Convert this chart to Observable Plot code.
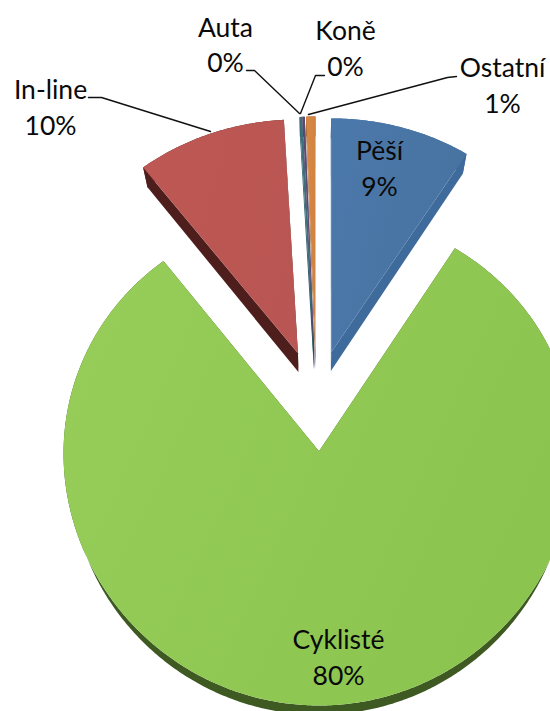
<!DOCTYPE html>
<html>
<head>
<meta charset="utf-8">
<style>html,body{margin:0;padding:0;background:#fff}svg{display:block;overflow:hidden}</style>
<script src="https://cdn.jsdelivr.net/npm/d3@7"></script>
<script src="https://cdn.jsdelivr.net/npm/@observablehq/plot@0.6"></script>
</head>
<body>
<div id="chart"></div>
<script>
// Data, clockwise from twelve o'clock
const categories = ["Pěší", "Cyklisté", "In-line", "Auta", "Koně", "Ostatní"];
const shares = [9.0, 80.5, 9.6, 0.15, 0.15, 0.6];
const percentLabels = ["9%", "80%", "10%", "0%", "0%", "1%"];

// Styles
const topStart = ["#4b78aa", "#95cd58", "#bd5854", "#3c6f7c", "#5a4a70", "#d68843"];
const topEnd = ["#47729f", "#8bc34f", "#b95552", "#3c6f7c", "#5a4a70", "#d08240"];
const sideColors = ["#3f6a9c", "#3e5a22", "#4e1e1d", "#2b5f6e", "#46355c", "#8a5526"];

// Pie geometry (plot units are pixels)
const cx = 316, cy = 400, R = 255, explode = 53, depthKx = 0.975, depthKy = 0.995;
const persp = 1.16e-4, yScale = 0.955;
const depthAt = (Y) => Y <= -50 ? 18.5 : 18.5 - 7.5 * (Y + 50) / 350;
const project = (X, Y, bottom) => {
  const w = 1 - persp * Y;
  let x = X / (1 - 0.3 * persp * Y), y = yScale * Y / w;
  if (bottom) { x *= depthKx; y = y * depthKy + depthAt(Y); }
  return {x: cx + x, y: cy + y};
};
const total = d3.sum(shares);
let acc = 0;
const slices = categories.map((name, i) => {
  const a0 = acc / total * 2 * Math.PI;
  acc += shares[i];
  const a1 = acc / total * 2 * Math.PI;
  const mid = (a0 + a1) / 2;
  const ox = explode * Math.sin(mid), oy = -explode * Math.cos(mid);
  const plane = [[ox, oy]];
  const n = Math.max(2, Math.ceil((a1 - a0) / 0.01));
  for (let k = 0; k <= n; k++) {
    const a = a0 + (a1 - a0) * k / n;
    plane.push([ox + R * Math.sin(a), oy - R * Math.cos(a)]);
  }
  return {i, name, plane};
});

// Each slice's side is one rim band and two cut faces
const sidePolys = [];
slices.forEach((s) => {
  const arc = s.plane.slice(1);
  const push = (key, pts) => pts.forEach((pt) => sidePolys.push({...pt, key: s.i + key, slice: s.i}));
  push("rim", [
    ...arc.map((p) => project(p[0], p[1], false)),
    ...arc.slice().reverse().map((p) => project(p[0], p[1], true))
  ]);
  [[s.plane[0], arc[0]], [s.plane[0], arc[arc.length - 1]]].forEach(([p, q], j) => {
    push("cut" + j, [project(p[0], p[1], false), project(q[0], q[1], false), project(q[0], q[1], true), project(p[0], p[1], true)]);
  });
});

const defs = () => {
  const svgNS = "http://www.w3.org/2000/svg";
  const d = document.createElementNS(svgNS, "defs");
  slices.forEach((s) => {
    const g = document.createElementNS(svgNS, "linearGradient");
    g.setAttribute("id", "top" + s.i);
    g.setAttribute("x1", "0"); g.setAttribute("y1", "0.3");
    g.setAttribute("x2", "1"); g.setAttribute("y2", "0.7");
    [[0, topStart[s.i]], [1, topEnd[s.i]]].forEach(([o, c]) => {
      const st = document.createElementNS(svgNS, "stop");
      st.setAttribute("offset", o); st.setAttribute("stop-color", c);
      g.appendChild(st);
    });
    d.appendChild(g);
  });
  return d;
};

// Label placement
const labelPlace = {
  "Pěší": [379, 166], "Cyklisté": [338, 655], "In-line": [50, 105],
  "Auta": [225, 42.5], "Koně": [345, 46], "Ostatní": [502, 83]
};
const labelData = categories.map((c, i) => ({
  text: c + "\n" + percentLabels[i], x: labelPlace[c][0], y: labelPlace[c][1]
}));
const leaderLines = [
  {name: "In-line", pts: [[88, 97], [101, 97], [210, 131]]},
  {name: "Auta", pts: [[246, 70], [254, 70], [299, 113]]},
  {name: "Koně", pts: [[324, 75], [315, 75], [300, 113]]},
  {name: "Ostatní", pts: [[456, 76], [447, 77], [308, 114]]}
].flatMap((l) => l.pts.map(([x, y]) => ({x, y, name: l.name})));

const order = [1, 2, 3, 4, 5, 0];
const marks = [defs];
order.forEach((i) => {
  marks.push(Plot.line(sidePolys.filter((d) => d.slice === i), {
    x: "x", y: "y", z: "key", fill: sideColors[i], stroke: "none", curve: "linear"
  }));
});
order.forEach((i) => {
  const pts = slices[i].plane.map((p) => project(p[0], p[1], false));
  marks.push(Plot.line(pts, {x: "x", y: "y", fill: `url(#top${i})`, stroke: "none", curve: "linear"}));
});
marks.push(Plot.line(leaderLines, {x: "x", y: "y", z: "name", stroke: "#111", strokeWidth: 1.4, curve: "linear"}));
marks.push(Plot.text(labelData, {
  x: "x", y: "y", text: "text", fontSize: 26.5, lineHeight: 1.34, fill: "#0a0a0a", textAnchor: "middle",
  fontFamily: "Lato, 'Open Sans', sans-serif"
}));

const chart = Plot.plot({
  width: 550, height: 711,
  margin: 0,
  x: {domain: [0, 550], range: [0, 550], axis: null},
  y: {domain: [0, 711], range: [0, 711], axis: null},
  style: {background: "#fff"},
  marks
});
document.getElementById("chart").appendChild(chart);
</script>
</body>
</html>
